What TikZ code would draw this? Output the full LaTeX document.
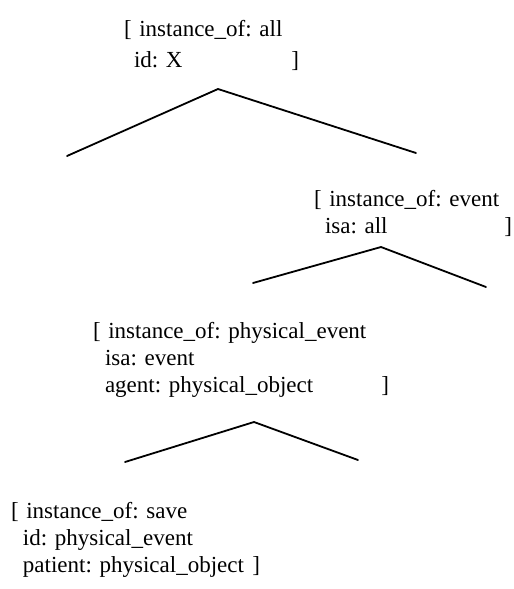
\documentclass[tikz,border=0pt]{standalone}
\usepackage{fontspec}
\setmainfont{Liberation Serif}
\frenchspacing
\begin{document}
\frenchspacing
\begin{tikzpicture}[x=1pt,y=-1pt,
  frame/.style={anchor=base west, inner sep=0pt, outer sep=0pt, align=left,
    font=\fontsize{23}{27}\selectfont\frenchspacing},
  branch/.style={line width=1.8pt, line join=miter, line cap=round}]
\useasboundingbox (0,0) rectangle (514,589);

% feature structures
\node[frame, text width=175pt, font=\fontsize{23}{31}\selectfont\frenchspacing] (all) at (124,36)
  {[ instance\_of: all\\\hspace*{10pt}id: X\hfill]};
\node[frame, text width=198pt] (event) at (314,206)
  {[ instance\_of: event\\\hspace*{11pt}isa: all\hfill]};
\node[frame, text width=296pt] (phys) at (93,338)
  {[ instance\_of: physical\_event\\\hspace*{12pt}isa: event\\\hspace*{12pt}agent: physical\_object\hfill]};
\node[frame, text width=249pt] (save) at (11,518)
  {[ instance\_of: save\\\hspace*{12pt}id: physical\_event\\\hspace*{12pt}patient: physical\_object\hfill]};

% branch points
\coordinate (a0) at (218,89);
\coordinate (aL) at (67,156);
\coordinate (aR) at (416,153);
\coordinate (e0) at (381,247);
\coordinate (eL) at (253,283);
\coordinate (eR) at (486,287);
\coordinate (p0) at (254,422);
\coordinate (pL) at (125,462);
\coordinate (pR) at (358,460);

\draw[branch] (aL) -- (a0) -- (aR);
\draw[branch] (eL) -- (e0) -- (eR);
\draw[branch] (pL) -- (p0) -- (pR);
\end{tikzpicture}
\end{document}
